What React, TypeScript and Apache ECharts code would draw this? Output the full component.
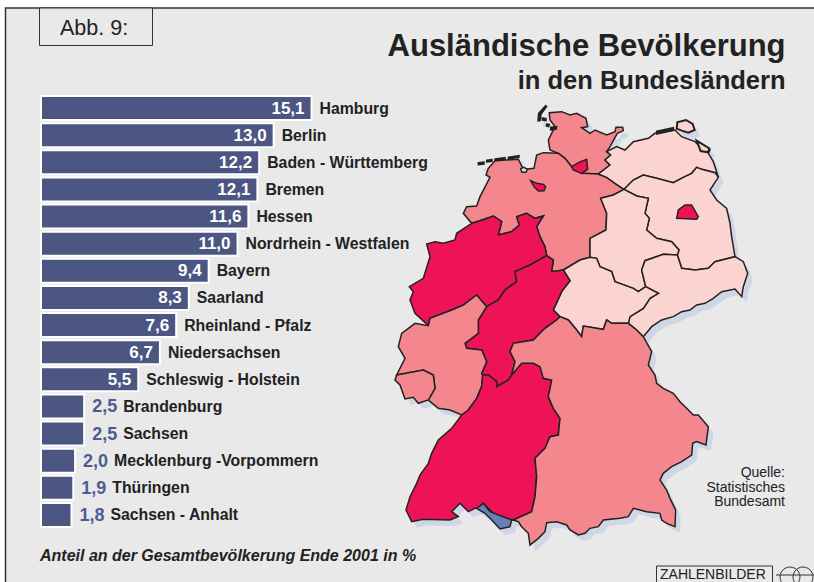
import React, { useEffect, useRef } from "react";
import * as echarts from "echarts";

const categories = ["Hamburg","Berlin","Baden - Württemberg","Bremen","Hessen","Nordrhein - Westfalen","Bayern","Saarland","Rheinland - Pfalz","Niedersachsen","Schleswig - Holstein","Brandenburg","Sachsen","Mecklenburg -Vorpommern","Thüringen","Sachsen - Anhalt"];
const shares = [15.1,13.0,12.2,12.1,11.6,11.0,9.4,8.3,7.6,6.7,5.5,2.5,2.5,2.0,1.9,1.8];
const FONT = '"Liberation Sans", Arial, sans-serif';
const BAR = "#4c5683", DARK = "#ee1257", MID = "#f4868d", PALE = "#fbd3d0", INK = "#222222", BG = "#e9e9e9";
const classColor = (v: number) => (v >= 10 ? DARK : v >= 5 ? MID : PALE);
const fmt = (v: number) => v.toFixed(1).replace(".", ",");

type P = number[];
const rev = (s: P[]) => [...s].reverse();
const elbe: P[] = [[535,190],[555,205],[575,230],[605,250],[655,252]];
const niNrw: P[] = [[275,400],[300,392],[340,378],[365,395],[355,435],[395,425],[418,405],[410,380],[440,370],[465,385],[490,378],[470,410],[480,440],[495,470],[500,497]];
const niHe: P[] = [[500,497],[520,510],[515,545],[550,540]];
const heTh: P[] = [[550,540],[570,572],[545,605],[520,660],[540,680]];
const heBy: P[] = [[540,680],[530,690],[495,715],[460,750],[400,760],[390,785],[405,815],[395,855]];
const niTh: P[] = [[550,540],[600,510],[630,502]];
const thSa: P[] = [[630,502],[650,505],[660,530],[695,545],[705,575],[760,595],[775,605],[797,590]];
const thSn: P[] = [[797,590],[835,610],[810,625],[790,655],[750,680],[745,700]];
const thBy: P[] = [[745,700],[695,700],[680,690],[670,718],[650,715],[610,708],[605,740],[590,720],[565,690],[540,680]];
const saNi: P[] = [[630,502],[630,445],[678,420],[680,370],[662,325],[700,315],[732,298]];
const saBb: P[] = [[732,298],[770,318],[805,325],[795,370],[808,385],[800,420],[830,445],[875,455],[897,480],[892,495]];
const saSn: P[] = [[892,495],[850,493],[795,512],[785,540],[797,590]];
const bbSn: P[] = [[892,495],[905,535],[945,540],[985,535],[1005,515],[1065,500]];
const snEast: P[] = [[1065,500],[1090,515],[1103,550],[1090,590],[1085,620],[1065,597],[1025,605],[1000,625],[975,640],[950,645],[930,660],[905,665],[880,680],[845,690],[815,710],[790,740]];
const snBy: P[] = [[745,700],[770,720],[790,740]];
const bbMv: P[] = [[732,298],[760,270],[790,255],[830,265],[880,278],[910,262],[935,250],[950,232],[965,238],[1005,248],[1015,262]];
const nrwHe: P[] = [[500,497],[450,525],[405,545],[410,575],[375,600],[355,630],[320,650]];
const nrwRp: P[] = [[320,650],[290,615],[250,645],[215,660],[150,685],[145,707]];
const nrwOuter: P[] = [[145,707],[105,670],[90,630],[100,605],[88,590],[130,565],[150,500],[140,462],[165,455],[190,460],[225,450],[230,430],[275,400]];
const heRp: P[] = [[320,650],[295,690],[295,730],[255,760],[260,775],[305,780],[320,815],[305,850],[308,855]];
const heBw: P[] = [[308,855],[325,855],[350,875],[350,890],[385,870],[395,855]];
const rpBw: P[] = [[245,975],[265,960],[290,925],[305,890],[308,855]];
const rpOuter: P[] = [[145,707],[105,700],[65,730],[55,770],[75,805],[50,855]];
const rpSl: P[] = [[50,855],[130,840],[160,855],[165,895],[145,930]];
const rpSouth: P[] = [[145,930],[175,955],[210,960],[245,975]];
const slOuter: P[] = [[145,930],[115,940],[100,922],[75,927],[60,885],[45,870],[50,855]];
const bwBy: P[] = [[395,855],[425,820],[460,820],[480,830],[490,865],[515,870],[505,920],[520,955],[540,985],[535,1035],[510,1040],[495,1075],[465,1105],[470,1160],[465,1220],[455,1265],[400,1290]];
const bwSouth: P[] = [[400,1290],[370,1290],[340,1270],[310,1240],[300,1255],[285,1255],[265,1265],[240,1240],[215,1265],[235,1280],[210,1290],[130,1288],[95,1295],[78,1260],[90,1220],[110,1180],[120,1155],[145,1120],[155,1090],[175,1050],[215,1015],[245,975]];
const byEast: P[] = [[790,740],[815,785],[805,825],[825,855],[830,880],[850,895],[880,910],[900,935],[920,955],[940,975],[955,975],[985,1010],[978,1065],[950,1055],[938,1060],[935,1095],[905,1115],[875,1130],[850,1150],[840,1170],[860,1200],[870,1225],[887,1260],[885,1310],[860,1300],[845,1290],[840,1270],[800,1265],[760,1255],[745,1280],[720,1285],[670,1290],[655,1310],[630,1315],[615,1330],[595,1335],[570,1320],[560,1305],[530,1295],[500,1298],[495,1325],[475,1345],[450,1365],[445,1330],[425,1310],[415,1295],[400,1290]];
const niCoast: P[] = [[250,370],[260,350],[290,348],[300,320],[330,262],[318,255],[325,235],[345,212],[415,208],[430,237],[445,237],[462,235],[470,195],[490,188],[535,190]];
const shCoast: P[] = [[535,190],[510,180],[505,150],[515,130],[525,110],[510,90],[508,68],[545,65],[570,75],[590,70],[618,85],[623,110],[605,113],[630,130],[645,120],[680,135],[705,125],[708,112],[728,112],[730,122],[712,130],[690,170],[680,185],[692,195],[675,210],[690,225],[655,252]];
const mvCoast: P[] = [[655,252],[690,225],[675,210],[692,195],[680,185],[710,170],[735,180],[760,155],[805,145],[825,130],[885,120],[905,140],[945,155],[960,170],[990,180],[985,190],[1000,215],[1015,262]];
const bbEast: P[] = [[1015,262],[990,300],[1010,330],[1040,355],[1050,400],[1055,440],[1065,500]];

const rings: Record<string, P[][]> = {
  "Schleswig - Holstein": [[...elbe, ...rev(shCoast).slice(1)]],
  "Niedersachsen": [[...niCoast, ...elbe.slice(1), [680,262],[705,280],[732,298], ...rev(saNi).slice(1), ...rev(niTh).slice(1), ...rev(niHe).slice(1), ...rev(niNrw).slice(1)]],
  "Mecklenburg -Vorpommern": [[...mvCoast, ...rev(bbMv).slice(1), [705,280],[680,262]]],
  "Brandenburg": [[...bbMv, ...bbEast.slice(1), ...rev(bbSn).slice(1), ...rev(saBb).slice(1)]],
  "Sachsen - Anhalt": [[...saNi, ...saBb.slice(1), ...saSn.slice(1), ...rev(thSa).slice(1)]],
  "Sachsen": [[...bbSn, ...snEast.slice(1), ...rev(snBy).slice(1), ...rev(thSn).slice(1), ...rev(saSn).slice(1)]],
  "Thüringen": [[...niTh, ...thSa.slice(1), ...thSn.slice(1), ...thBy.slice(1), ...rev(heTh).slice(1)]],
  "Nordrhein - Westfalen": [[...niNrw, ...nrwHe.slice(1), ...nrwRp.slice(1), ...nrwOuter.slice(1)]],
  "Hessen": [[...niHe, ...heTh.slice(1), ...heBy.slice(1), ...rev(heBw).slice(1), ...rev(heRp).slice(1), ...rev(nrwHe).slice(1)]],
  "Rheinland - Pfalz": [[...nrwRp, ...rpOuter.slice(1), ...rpSl.slice(1), ...rpSouth.slice(1), ...rpBw.slice(1), ...rev(heRp).slice(1)]],
  "Saarland": [[...rpSl, ...slOuter.slice(1)]],
  "Baden - Württemberg": [[...bwBy, ...bwSouth.slice(1), ...rpBw.slice(1), ...heBw.slice(1)]],
  "Bayern": [[...rev(thBy), ...snBy.slice(1), ...byEast.slice(1), ...rev(bwBy).slice(1), ...rev(heBy).slice(1)]],
  "Berlin": [[[890,385],[895,360],[915,345],[935,345],[955,380],[950,388]]],
  "Hamburg": [[[575,230],[595,218],[620,208],[623,238],[605,250],[580,240]]],
  "Bremen": [[[452,272],[470,280],[490,283],[497,290],[492,302],[475,303],[462,290]]],
};
const extras: Record<string, { rings: P[][]; color: string; border?: number }> = {
  "Bodensee": { color: "#6880b8", rings: [[[290,1255],[310,1240],[330,1265],[395,1290],[390,1310],[360,1317],[335,1290],[315,1270]]] },
  "Bremerhaven": { color: BG, rings: [[[422,236],[432,232],[442,238],[438,247],[426,247]]] },
  "Rügen": { color: PALE, border: 2, rings: [[[892,97],[918,90],[938,102],[944,120],[925,128],[905,122],[890,116]], [[950,152],[988,175],[984,187],[962,183]]] },
  "Inseln": { color: INK, rings: [
    [[295,218],[312,216],[312,222],[295,224]], [[320,211],[336,209],[336,214],[320,216]], [[345,207],[375,203],[375,208],[345,212]], [[385,202],[417,197],[417,202],[385,207]],
    [[497,47],[500,50],[483,72],[480,92],[474,92],[476,70]], [[487,84],[498,86],[498,92],[487,90]], [[500,102],[508,103],[506,110],[499,108]], [[512,112],[530,110],[528,118],[512,120]],
    [[830,124],[880,113],[880,121],[830,132]],
  ] },
};

const toGeo = () => ({
  type: "FeatureCollection",
  features: [...Object.entries(rings).map(([name, r]) => ({ name, r })), ...Object.entries(extras).map(([name, e]) => ({ name, r: e.rings }))].map(({ name, r }) => ({
    type: "Feature",
    properties: { name },
    geometry: { type: "MultiPolygon", coordinates: r.map((ring) => [[...ring, ring[0]].map(([x, y]) => [x, -y])]) },
  })),
});

export default function App() {
  const ref = useRef<HTMLDivElement>(null);
  useEffect(() => {
    const geo: any = toGeo();
    echarts.registerMap("de", geo);
    echarts.registerMap("de-shadow", geo);
    const all: P[] = [...Object.values(rings).flat(2), ...Object.values(extras).flatMap((e) => e.rings.flat())] as any;
    const xs = all.map((p) => p[0]), ys = all.map((p) => p[1]);
    const minX = Math.min(...xs), maxX = Math.max(...xs), minY = Math.min(...ys), maxY = Math.max(...ys);
    const box = { left: 380 + minX / 3, top: 90 + minY / 3, width: (maxX - minX) / 3, height: (maxY - minY) / 3 };
    const mapData = [
      ...categories.map((name, i) => ({ name, value: shares[i], itemStyle: { areaColor: classColor(shares[i]) } })),
      ...Object.entries(extras).map(([name, e]) => ({ name, value: 0, itemStyle: { areaColor: e.color, borderWidth: e.border ?? 1.5 } })),
    ];
    const chart = echarts.init(ref.current!, undefined, { renderer: "svg" });
    chart.setOption({
      animation: false,
      backgroundColor: "#ffffff",
      textStyle: { fontFamily: FONT },
      title: [
        { text: "Ausländische Bevölkerung", right: 23.5, top: 25, textStyle: { fontFamily: FONT, fontSize: 31, fontWeight: "bold", color: INK } },
        { text: "in den Bundesländern", right: 23.5, top: 62, textStyle: { fontFamily: FONT, fontSize: 25.5, fontWeight: "bold", color: INK } },
      ],
      grid: { left: 40, top: 94.5, width: 361, height: 434, containLabel: false },
      xAxis: { type: "value", min: 0, max: 20, show: false },
      yAxis: { type: "category", data: categories, inverse: true, show: false },
      series: [
        { type: "map", map: "de-shadow", z: 1, silent: true, aspectScale: 1, left: box.left + 5, top: box.top + 6, width: box.width, height: box.height, label: { show: false }, emphasis: { disabled: true }, select: { disabled: true }, selectedMode: false, itemStyle: { areaColor: "#cfd6e6", borderWidth: 0 }, data: [] },
        { type: "map", map: "de", z: 2, silent: true, aspectScale: 1, left: box.left, top: box.top, width: box.width, height: box.height, label: { show: false }, emphasis: { disabled: true }, select: { disabled: true }, selectedMode: false, itemStyle: { borderColor: INK, borderWidth: 1.5 }, data: mapData },
        {
          type: "bar", z: 3, barWidth: 26, barGap: "-100%", silent: true,
          itemStyle: { color: BAR, borderColor: "#ffffff", borderWidth: 2 },
          data: shares.map((v) => ({ value: v, label: { show: v >= 5, position: "insideRight", distance: 8, formatter: fmt(v), color: "#ffffff", fontFamily: FONT, fontSize: 17, fontWeight: "bold" } })),
        },
        {
          type: "bar", z: 4, barWidth: 26, barGap: "-100%", silent: true,
          itemStyle: { color: "transparent" },
          data: shares.map((v, i) => ({
            value: v,
            label: {
              show: true, position: "right", distance: 7,
              formatter: v >= 5 ? `{n|${categories[i]}}` : `{v|${fmt(v)}}{n|${categories[i]}}`,
              rich: {
                n: { fontFamily: FONT, fontSize: 15.8, fontWeight: "bold", color: INK },
                v: { fontFamily: FONT, fontSize: 18, fontWeight: "bold", color: "#4e5c92", padding: [0, 6, 0, 0] },
              },
            },
          })),
        },
      ],
      graphic: [
        { type: "rect", z: 0, shape: { x: 5.5, y: 8, width: 830, height: 600 }, style: { fill: BG, stroke: "#333333", lineWidth: 1.5 } },
        { type: "rect", z: 0, shape: { x: 39.5, y: 8, width: 113, height: 37.5 }, style: { fill: BG, stroke: "#333333", lineWidth: 1 } },
        { type: "text", x: 60, y: 17, style: { text: "Abb. 9:", font: `21.5px ${FONT}`, fill: INK } },
        { type: "text", x: 40, y: 547, style: { text: "Anteil an der Gesamtbevölkerung Ende 2001 in %", font: `italic bold 16px ${FONT}`, fill: INK } },
        { type: "text", x: 785, y: 465, style: { text: "Quelle:\nStatistisches\nBundesamt", font: `14px ${FONT}`, fill: INK, align: "right", lineHeight: 14.5 } },
        { type: "rect", shape: { x: 656.5, y: 566, width: 116, height: 30 }, style: { fill: BG, stroke: "#333333", lineWidth: 1 } },
        { type: "text", x: 660, y: 566.5, style: { text: "ZAHLENBILDER", font: `14px ${FONT}`, fill: INK } },
        { type: "circle", shape: { cx: 790, cy: 577, r: 10 }, style: { fill: "none", stroke: "#333333", lineWidth: 1 } },
        { type: "circle", shape: { cx: 803, cy: 577, r: 10 }, style: { fill: "none", stroke: "#333333", lineWidth: 1 } },
        { type: "line", shape: { x1: 776, y1: 575, x2: 814, y2: 575 }, style: { stroke: "#333333", lineWidth: 1 } },
      ],
    });
    return () => chart.dispose();
  }, []);
  return <div ref={ref} style={{ position: "fixed", left: 0, top: 0, width: 814, height: 582 }} />;
}
